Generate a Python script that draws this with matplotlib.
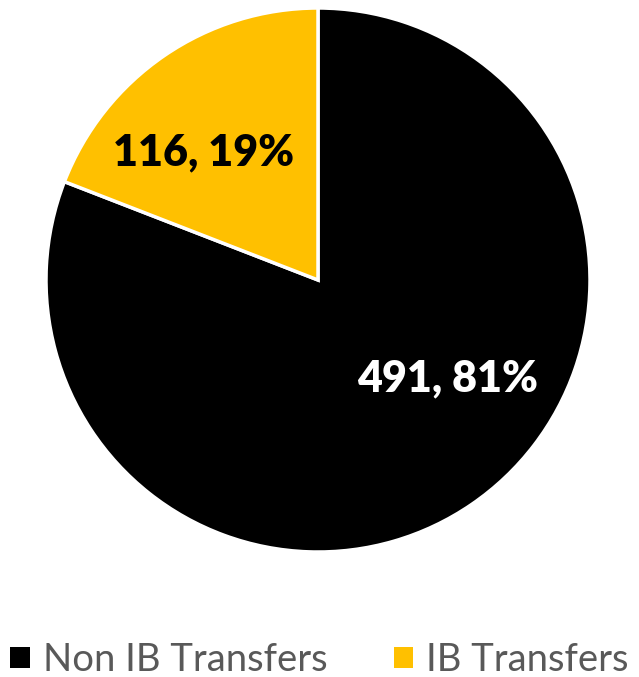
import matplotlib
matplotlib.use("Agg")
import matplotlib.pyplot as plt
from matplotlib.patches import Patch

categories = ["Non IB Transfers", "IB Transfers"]
counts = [491, 116]
percents = [81, 19]
colors = ["#000000", "#FFC000"]

W, H = 639, 677
fig = plt.figure(figsize=(W / 100, H / 100), dpi=100)
cx, cy, r = 318, 280, 272
ax = fig.add_axes([(cx - r) / W, (H - cy - r) / H, 2 * r / W, 2 * r / H])
wedges, _ = ax.pie(counts, colors=colors, startangle=90, counterclock=False,
                   radius=1, wedgeprops=dict(edgecolor="white", linewidth=2.5))
ax.set_xlim(-1, 1)
ax.set_ylim(-1, 1)
ax.set_aspect("equal")
ax.axis("off")

label_pos = [(0.478, -0.36), (-0.42, 0.47)]
label_colors = ["white", "black"]
for (x, y), c, n, p in zip(label_pos, label_colors, counts, percents):
    ax.text(x, y, f"{n}, {p}%", ha="center", va="center", color=c,
            fontsize=31, fontweight="heavy", family="Lato")

handles = [Patch(facecolor=c, edgecolor="none") for c in colors]
leg = fig.legend(handles, categories, loc="center", bbox_to_anchor=(0.5, 1 - 660 / H),
                 ncol=2, frameon=False, handlelength=0.5, handleheight=0.5,
                 handletextpad=0.34, columnspacing=1.75, labelcolor="#595959",
                 prop=dict(family="Lato", size=27.5))
fig.savefig("out.png", dpi=100)
